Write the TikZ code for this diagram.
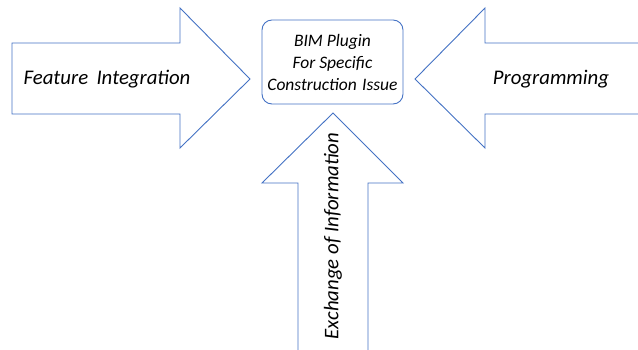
\documentclass[tikz,border=0pt]{standalone}
\usepackage{fontspec}
\setmainfont{Carlito}
\usetikzlibrary{positioning}
\definecolor{arrowblue}{RGB}{68,114,196}
\tikzstyle{blockarrow}=[draw=arrowblue, line width=0.9pt, fill=white, line join=miter]
\tikzstyle{plugin}=[draw=arrowblue, rounded corners=3.5mm, line width=0.9pt, minimum width=141pt, minimum height=84pt, align=center, inner sep=0pt, font=\itshape\fontsize{17.5}{22}\selectfont]
\tikzstyle{arrowtext}=[inner sep=0pt, font=\itshape\fontsize{20.8}{24}\selectfont]

\begin{document}
\begin{tikzpicture}[x=1pt, y=-1pt]
				
				\useasboundingbox (0,0) rectangle (638,350);
				
				% block arrows
				\draw [blockarrow] (12,43) -- (180,43) -- (180,8) -- (250,79) -- (180,148) -- (180,114) -- (12,114) -- cycle;
				\draw [blockarrow] (645,43) -- (485,43) -- (485,8) -- (415,79) -- (485,148) -- (485,114) -- (645,114);
				\draw [blockarrow] (298,360) -- (298,183) -- (262,183) -- (333,113) -- (403,183) -- (368,183) -- (368,360);
				
				\node (plugin) [plugin] at (332.5,62) {BIM Plugin\\For Specific\\Construction\hspace{0.3em}Issue};
				
				\node (feature) [arrowtext] at (107,79) {Feature\hspace{0.4em}Integration};
				\node (prog) [arrowtext] at (551,79) {Programming};
				\node (exchange) [arrowtext, rotate=90] at (333,236) {Exchange of Information};
				
				\end{tikzpicture}
\end{document}
